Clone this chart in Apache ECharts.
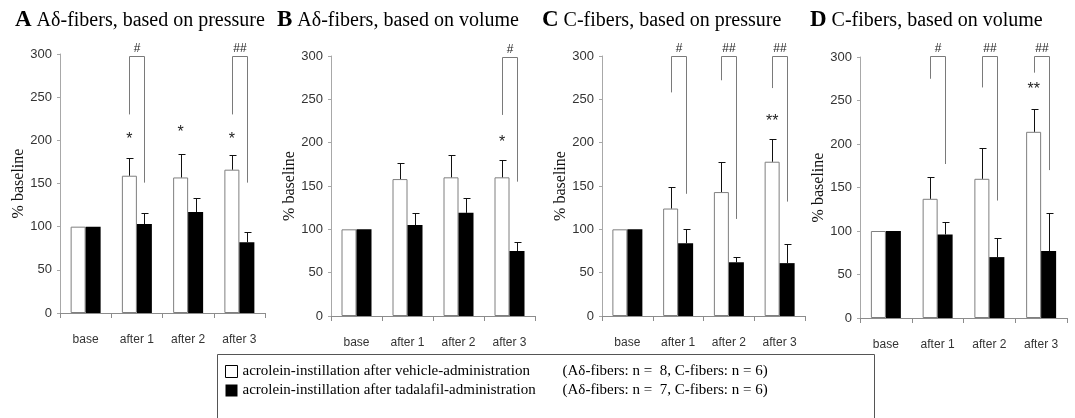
<!DOCTYPE html>
<html>
<head>
<meta charset="utf-8">
<script src="https://cdn.jsdelivr.net/npm/echarts@6/dist/echarts.min.js"></script>
<style>
  html, body { margin: 0; padding: 0; background: #fff; }
  #chart { width: 1075px; height: 418px; }
</style>
</head>
<body>
<div id="chart"></div>
<script>
// categories / values (% of baseline)
const categories = ['base', 'after 1', 'after 2', 'after 3'];

const vehicleA = [100, 159, 157, 166];
const vehicleErrA = [null, 179, 184, 183];
const tadalafilA = [100, 103, 117, 82];
const tadalafilErrA = [null, 116, 133, 94];

const vehicleB = [100, 158, 160, 160];
const vehicleErrB = [null, 177, 186, 180];
const tadalafilB = [100, 105, 119, 75];
const tadalafilErrB = [null, 119, 136, 85];

const vehicleC = [100, 124, 143, 178];
const vehicleErrC = [null, 149, 178, 204];
const tadalafilC = [100, 84, 62, 61];
const tadalafilErrC = [null, 100, 68, 83];

const vehicleD = [100, 137, 160, 214];
const vehicleErrD = [null, 162, 195, 240];
const tadalafilD = [100, 96, 70, 77];
const tadalafilErrD = [null, 110, 92, 121];

// significance brackets: [category, left leg bottom, right leg bottom, top]
const bracketsA = [[1, 230, 151, 298], [3, 230, 151, 298]];
const bracketLabelsA = ['#', '##'];
const bracketsB = [[3, 232, 155, 299]];
const bracketLabelsB = ['#'];
const bracketsC = [[1, 258, 141, 300], [2, 272, 112, 300], [3, 263, 132, 300]];
const bracketLabelsC = ['#', '##', '##'];
const bracketsD = [[1, 275, 177, 301], [2, 265, 135, 301], [3, 282, 170, 301]];
const bracketLabelsD = ['#', '##', '##'];

// stars above vehicle bars: [category, value]
const starsA = [[1, 201], [2, 209], [3, 201]];
const starLabelsA = ['*', '*', '*'];
const starsB = [[3, 200]];
const starLabelsB = ['*'];
const starsC = [[3, 224]];
const starLabelsC = ['**'];
const starsD = [[3, 263]];
const starLabelsD = ['**'];

const yTicks = { min: 0, max: 300, interval: 50 };

const panelLetters = ['A', 'B', 'C', 'D'];
const panelTitles = [
  'A\u03b4-fibers, based on pressure',
  'A\u03b4-fibers, based on volume',
  'C-fibers, based on pressure',
  'C-fibers, based on volume'
];

const SER_VEH = 'acrolein-instillation after vehicle-administration';
const SER_TAD = 'acrolein-instillation after tadalafil-administration';
const legendN = {};
legendN[SER_VEH] = '(A\u03b4-fibers: n =  8, C-fibers: n = 6)';
legendN[SER_TAD] = '(A\u03b4-fibers: n =  7, C-fibers: n = 6)';

const BAR_W = 15;
const CAP = 3;
const SERIF = 'Liberation Serif';
const SANS = 'Liberation Sans';

const grids = [
  { left: 60, top: 54, width: 205, height: 259 },
  { left: 331, top: 56, width: 204, height: 260 },
  { left: 602, top: 56, width: 203, height: 260 },
  { left: 860, top: 57, width: 207, height: 261 }
];
const titleLeft = [10, 272, 537, 805];

const panels = [
  { veh: vehicleA, vehErr: vehicleErrA, tad: tadalafilA, tadErr: tadalafilErrA, br: bracketsA, brl: bracketLabelsA, st: starsA, stl: starLabelsA },
  { veh: vehicleB, vehErr: vehicleErrB, tad: tadalafilB, tadErr: tadalafilErrB, br: bracketsB, brl: bracketLabelsB, st: starsB, stl: starLabelsB },
  { veh: vehicleC, vehErr: vehicleErrC, tad: tadalafilC, tadErr: tadalafilErrC, br: bracketsC, brl: bracketLabelsC, st: starsC, stl: starLabelsC },
  { veh: vehicleD, vehErr: vehicleErrD, tad: tadalafilD, tadErr: tadalafilErrD, br: bracketsD, brl: bracketLabelsD, st: starsD, stl: starLabelsD }
];

function crisp(v) { return Math.round(v) + 0.5; }

// upward-only error bar, side -1 = left bar, +1 = right bar
function errorSeries(idx, vals, tops, side) {
  return {
    type: 'custom', xAxisIndex: idx, yAxisIndex: idx, silent: true, z: 4,
    data: vals.map((v, i) => [i, v, tops[i] == null ? v : tops[i]]),
    renderItem: function (params, api) {
      if (api.value(2) <= api.value(1)) return;
      const b = api.coord([api.value(0), api.value(1)]);
      const t = api.coord([api.value(0), api.value(2)]);
      const x = crisp(b[0] + side * BAR_W / 2);
      const yt = crisp(t[1]);
      const st = { stroke: '#111', lineWidth: 1 };
      return {
        type: 'group', children: [
          { type: 'line', shape: { x1: x, y1: b[1], x2: x, y2: yt }, style: st },
          { type: 'line', shape: { x1: x - CAP, y1: yt, x2: x + CAP + 1, y2: yt }, style: st }
        ]
      };
    }
  };
}

function bracketSeries(idx, rows, labels) {
  return {
    type: 'custom', xAxisIndex: idx, yAxisIndex: idx, silent: true, z: 5,
    data: rows,
    renderItem: function (params, api) {
      const c = api.value(0);
      const l = api.coord([c, api.value(1)]);
      const r = api.coord([c, api.value(2)]);
      const t = api.coord([c, api.value(3)]);
      const xl = crisp(l[0] - BAR_W / 2), xr = crisp(r[0] + BAR_W / 2);
      const yt = crisp(t[1]);
      return {
        type: 'group', children: [
          {
            type: 'polyline',
            shape: { points: [[xl, l[1]], [xl, yt], [xr, yt], [xr, r[1]]] },
            style: { stroke: '#7a7a7a', lineWidth: 1, fill: null }
          },
          {
            type: 'text',
            style: {
              text: labels[params.dataIndex], x: (xl + xr) / 2, y: yt - 8,
              align: 'center', verticalAlign: 'middle',
              fontFamily: SANS, fontSize: 12, fill: '#222'
            }
          }
        ]
      };
    }
  };
}

function starSeries(idx, rows, labels) {
  return {
    type: 'custom', xAxisIndex: idx, yAxisIndex: idx, silent: true, z: 5,
    data: rows,
    renderItem: function (params, api) {
      const p = api.coord([api.value(0), api.value(1)]);
      return {
        type: 'text',
        style: {
          text: labels[params.dataIndex], x: p[0] - BAR_W / 2, y: p[1],
          align: 'center', verticalAlign: 'middle',
          fontFamily: SANS, fontSize: 16, fill: '#222'
        }
      };
    }
  };
}

const xAxes = [], yAxes = [], series = [], titles = [];
panels.forEach(function (p, i) {
  xAxes.push({
    type: 'category', gridIndex: i, data: categories,
    axisLine: { lineStyle: { color: '#8c8c8c', width: 1 } },
    axisTick: { show: true, interval: 0, length: 5, lineStyle: { color: '#8c8c8c' } },
    axisLabel: { interval: 0, margin: 21, color: '#333', fontFamily: SANS, fontSize: 12 }
  });
  yAxes.push({
    type: 'value', gridIndex: i,
    min: yTicks.min, max: yTicks.max, interval: yTicks.interval,
    name: '% baseline', nameLocation: 'middle', nameGap: 33,
    nameTextStyle: { fontFamily: SERIF, fontSize: 16, color: '#111' },
    axisLine: { show: true, lineStyle: { color: '#a8a8a8', width: 1 } },
    axisTick: { show: true, length: 3, lineStyle: { color: '#a8a8a8' } },
    splitLine: { show: false },
    axisLabel: { margin: 8, color: '#333', fontFamily: SANS, fontSize: 13 }
  });
  series.push({
    name: SER_VEH, type: 'bar', xAxisIndex: i, yAxisIndex: i,
    data: p.veh, barWidth: BAR_W, barGap: '0%',
    itemStyle: { color: '#fff', borderColor: '#7f7f7f', borderWidth: 1 },
    silent: true
  });
  series.push({
    name: SER_TAD, type: 'bar', xAxisIndex: i, yAxisIndex: i,
    data: p.tad, barWidth: BAR_W, barGap: '0%',
    itemStyle: { color: '#000' },
    silent: true
  });
  series.push(errorSeries(i, p.veh, p.vehErr, -1));
  series.push(errorSeries(i, p.tad, p.tadErr, 1));
  series.push(bracketSeries(i, p.br, p.brl));
  series.push(starSeries(i, p.st, p.stl));
  titles.push({
    left: titleLeft[i], top: 4,
    text: '{l|' + panelLetters[i] + '} {t|' + panelTitles[i] + '}',
    textStyle: {
      fontWeight: 'normal',
      rich: {
        l: { fontFamily: SERIF, fontWeight: 'bold', fontSize: 23, color: '#000' },
        t: { fontFamily: SERIF, fontWeight: 'normal', fontSize: 20, color: '#000' }
      }
    }
  });
});

const chart = echarts.init(document.getElementById('chart'));
chart.setOption({
  animation: false,
  backgroundColor: '#fff',
  title: titles,
  grid: grids,
  xAxis: xAxes,
  yAxis: yAxes,
  legend: {
    orient: 'vertical', left: 220, top: 359,
    itemWidth: 12, itemHeight: 12, itemGap: 4,
    selectedMode: false,
    data: [
      { name: SER_VEH, icon: 'rect', itemStyle: { color: '#fff', borderColor: '#000', borderWidth: 1 } },
      { name: SER_TAD, icon: 'rect', itemStyle: { color: '#000' } }
    ],
    formatter: function (name) { return '{a|' + name + '}{b|' + legendN[name] + '}'; },
    textStyle: {
      fontFamily: SERIF, fontSize: 15, color: '#000',
      rich: {
        a: { fontFamily: SERIF, fontSize: 15, width: 320 },
        b: { fontFamily: SERIF, fontSize: 15 }
      }
    }
  },
  graphic: [{
    type: 'rect', left: 215, top: 352,
    shape: { width: 657, height: 80 },
    style: { fill: null, stroke: '#555', lineWidth: 1 }
  }],
  series: series
});
</script>
</body>
</html>
